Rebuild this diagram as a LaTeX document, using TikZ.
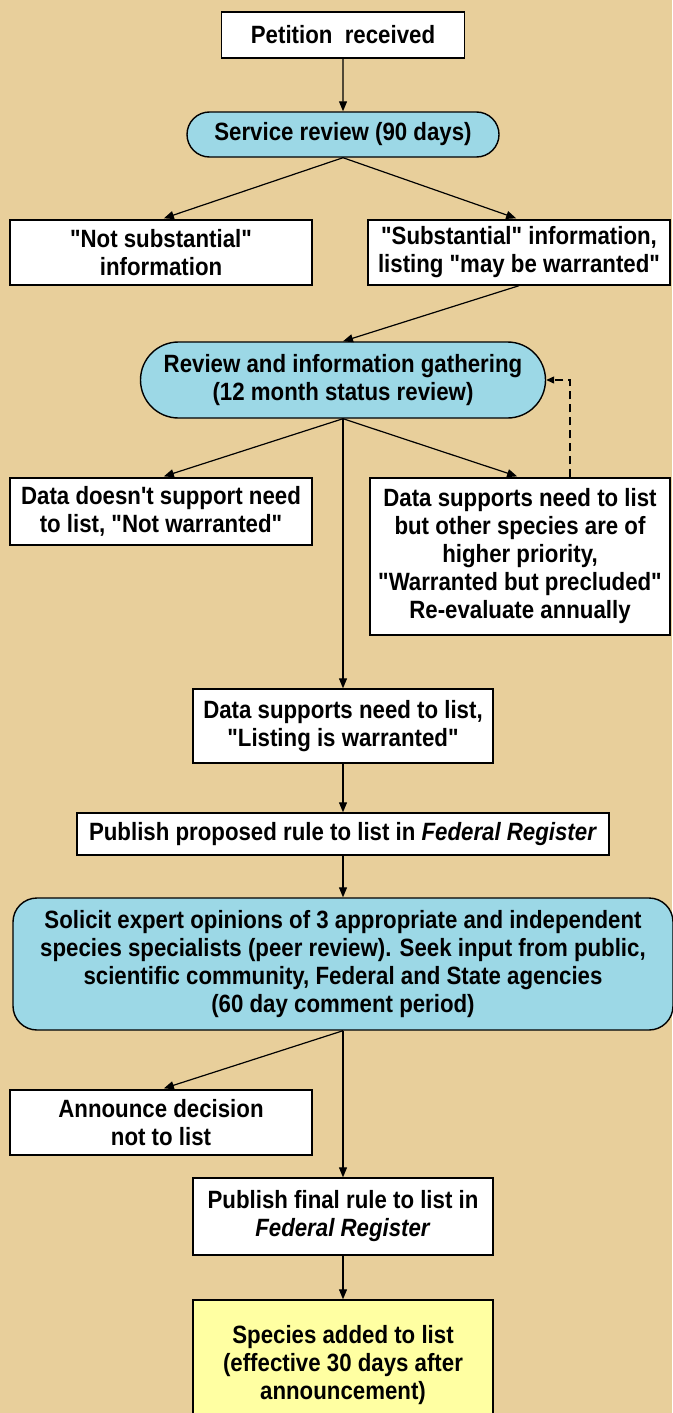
\documentclass[tikz,border=0pt]{standalone}
\usepackage{fontspec}
\setmainfont{Liberation Sans}[FakeStretch=0.89,Ligatures=TeXOff]
\usepackage{xcolor}
\usetikzlibrary{arrows.meta,shapes.misc}

\definecolor{bgtan}{RGB}{232,207,155}
\definecolor{stepblue}{RGB}{156,216,230}
\definecolor{endyellow}{RGB}{255,255,162}
\newcommand{\flowtext}{\bfseries\fontsize{25}{28}\selectfont}

\begin{document}
\begin{tikzpicture}[x=1pt,y=-1pt,
    box/.style={draw,line width=1.4pt,fill=white,align=center,inner sep=0pt,font=\flowtext},
    pill/.style={box,rounded rectangle,fill=stepblue},
    flow/.style={-{Triangle[length=10pt,width=8pt]},line width=1.2pt},
    feedback/.style={-{Triangle[length=8pt,width=7pt]},line width=1.2pt,dash pattern=on 8pt off 5pt}]
    % Background
    \fill[bgtan] (0,0) rectangle (672,1413);
    \useasboundingbox (0,0) rectangle (672,1413);

    % Petition and first review
    \node[box,minimum width=243,minimum height=46] (pet) at (343,35) {Petition\ \ received};
    \node[pill,minimum width=312,minimum height=45] (serv) at (343,134.5) {Service review (90 days)};
    \node[box,minimum width=302,minimum height=65] (nots) at (161,252.5) {"Not substantial"\\information};
    \node[box,minimum width=302,minimum height=65] (subs) at (519,252.5) {"Substantial" information,\\listing "may be warranted"};

    % Status review
    \node[pill,minimum width=405,minimum height=76] (rev) at (343,380) {Review and information gathering\\(12 month status review)};
    \node[box,minimum width=302,minimum height=67] (dnot) at (161,511.5) {Data doesn't support need\\to list, "Not warranted"};
    \node[box,minimum width=300,minimum height=157] (wbp) at (520,556.5) {Data supports need to list\\but other species are of\\higher priority,\\"Warranted but precluded"\\Re-evaluate annually};
    \coordinate (loop) at (570,380);

    % Listing
    \node[box,minimum width=300,minimum height=74] (lw) at (343,726) {Data supports need to list,\\"Listing is warranted"};
    \node[box,minimum width=532,minimum height=42] (prop) at (343,834) {Publish proposed rule to list in \textit{Federal Register}};
    \node[box,rounded corners=24pt,fill=stepblue,minimum width=660,minimum height=132] (sol) at (343,964) {Solicit expert opinions of 3 appropriate and independent\\species specialists (peer review). Seek input from public,\\scientific community, Federal and State agencies\\(60 day comment period)};
    \node[box,minimum width=302,minimum height=65] (ann) at (161,1122.5) {Announce decision\\not to list};
    \node[box,minimum width=300,minimum height=77] (fin) at (343,1216.5) {Publish final rule to list in\\\textit{Federal Register}};
    \node[box,fill=endyellow,minimum width=300,minimum height=130] (spec) at (343,1365) {Species added to list\\(effective 30 days after\\announcement)};

    % Connectors
    \draw[flow] (pet) -- (serv);
    \draw[flow,shorten >=3pt] (serv.south) -- (nots.north);
    \draw[flow,shorten >=3pt] (serv.south) -- (subs.north);
    \draw[flow] (subs.south) -- (rev.north);
    \draw[flow,shorten >=3pt] (rev.south) -- (dnot.north);
    \draw[flow,shorten >=3pt] (rev.south) -- (wbp.north);
    \draw[feedback] (wbp.north -| loop) -- (loop) -- (rev.east);
    \draw[flow] (rev.south) -- (lw.north);
    \draw[flow] (lw) -- (prop);
    \draw[flow] (prop) -- (sol);
    \draw[flow,shorten >=3pt] (sol.south) -- (ann.north);
    \draw[flow] (sol.south) -- (fin.north);
    \draw[flow] (fin) -- (spec);
\end{tikzpicture}
\end{document}
